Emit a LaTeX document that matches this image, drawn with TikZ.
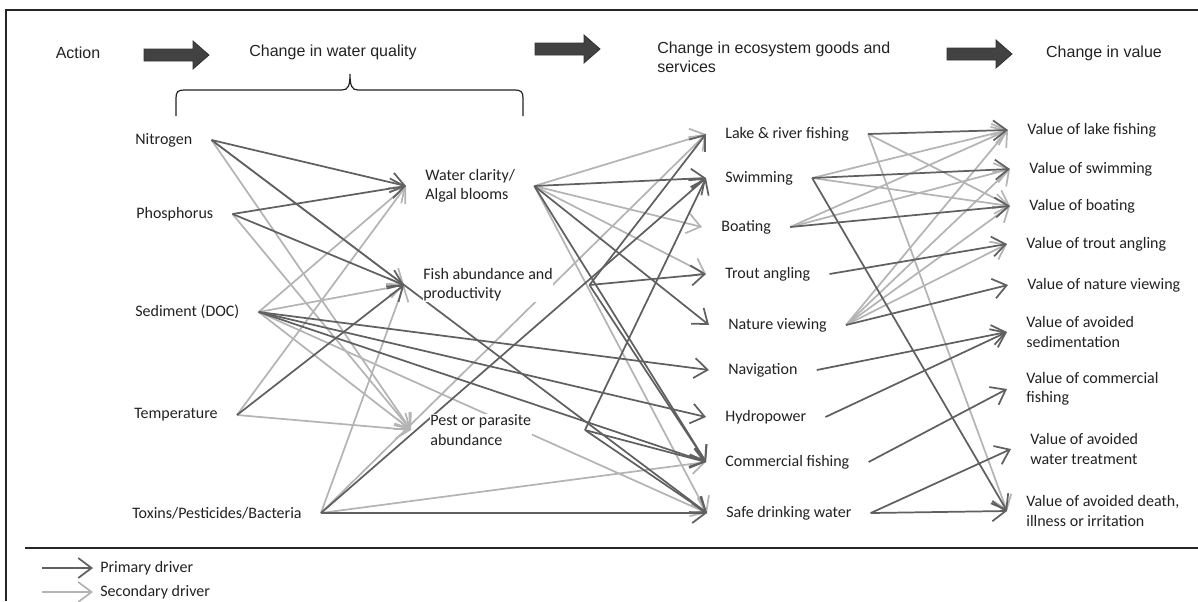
\documentclass[tikz,border=0pt]{standalone}
\usepackage{fontspec}
\setmainfont{Carlito}
\newfontfamily\headfont{Liberation Sans}
\usetikzlibrary{arrows.meta,backgrounds}

\definecolor{primarygray}{RGB}{96,96,96}
\definecolor{secondarygray}{RGB}{180,180,180}
\definecolor{labeltext}{RGB}{34,34,34}
\definecolor{blockgray}{RGB}{66,66,66}

\tikzset{
    item/.style={anchor=west, inner sep=0.5pt, outer xsep=14pt, fill=white, text=labeltext, align=left, font=\fontsize{12}{14.5}\selectfont},
    legend/.style={item, outer xsep=5pt},
    head/.style={inner sep=0pt, text=labeltext, align=left, font=\headfont\fontsize{12}{14.5}\selectfont},
    primary/.style={->, draw=primarygray, line width=1.3pt},
    secondary/.style={->, draw=secondarygray, line width=1.3pt},
    blockarrow/.style={fill=blockgray, draw=black!80, line width=0.6pt},
    frame/.style={draw=black!85, line width=1.4pt},
}

\begin{document}
\begin{tikzpicture}[x=0.75pt, y=-0.75pt, >={Straight Barb[length=10pt,width=15pt]}]
    \useasboundingbox (0,0) rectangle (1198,601);

    %%  Frame
    \draw [frame] (6,601) -- (6,10) -- (1198,10);
    \draw [frame] (25,548) -- (1198,548);

    %%  Headings
    \node [head] (action) at (78,53) {Action};
    \node [head] (wqhead) at (333,52) {Change in water quality};
    \node [head, anchor=west] (eshead) at (657,57) {Change in ecosystem goods and\\services};
    \node [head] (valhead) at (1104,53) {Change in value};
    % Block arrows
    \foreach \x/\y in {144/55, 535/49, 947/54}
        \filldraw [blockarrow] (\x,\y) ++(0,-6) -- ++(49,0) -- ++(0,-8) -- ++(16,14) -- ++(-16,14) -- ++(0,-8) -- ++(-49,0) -- cycle;
    % Brace
    \draw [line width=0.9pt, labeltext] (176,116) -- (176,98) .. controls (176,92) and (178,90) .. (184,90) -- (342,90) .. controls (348,90) and (350,86) .. (350,74) .. controls (350,86) and (352,90) .. (358,90) -- (515,90) .. controls (521,90) and (523,92) .. (523,98) -- (523,116);

    %%  Actions
    \node [item] (nit) at (116,140) {Nitrogen};
    \node [item] (pho) at (117,214) {Phosphorus};
    \node [item] (sed) at (116,312) {Sediment (DOC)};
    \node [item] (tem) at (115,415) {Temperature};
    \node [item] (tox) at (113,513) {Toxins/Pesticides/Bacteria};

    %%  Water quality
    \node [item] (wc) at (406,186) {Water clarity/\\Algal blooms};
    \node [item] (fish) at (404,285) {Fish abundance and\\productivity};
    \node [item] (pest) at (411,430) {Pest or parasite\\abundance};
    \coordinate (fishout) at ([xshift=13pt]fish.east);
    \coordinate (pestout) at ([xshift=26pt]pest.east);

    %%  Ecosystem goods and services
    \node [item] (lf) at (706,134) {Lake \& river fishing};
    \node [item] (sw) at (706,178) {Swimming};
    \node [item] (bo) at (702,227) {Boating};
    \node [item] (tr) at (706,274) {Trout angling};
    \node [item] (nv) at (709,325) {Nature viewing};
    \node [item] (na) at (709,370) {Navigation};
    \node [item] (hy) at (706,417) {Hydropower};
    \node [item] (cf) at (706,462) {Commercial fishing};
    \node [item] (dw) at (707,513) {Safe drinking water};

    %%  Values
    \node [item] (vlf) at (1008,130) {Value of lake fishing};
    \node [item] (vsw) at (1010,169) {Value of swimming};
    \node [item] (vbo) at (1010,206) {Value of boating};
    \node [item] (vtr) at (1007,244) {Value of trout angling};
    \node [item] (vnv) at (1008,285) {Value of nature viewing};
    \node [item] (vsed) at (1007,332) {Value of avoided\\ sedimentation};
    \node [item] (vcf) at (1007,389) {Value of commercial\\fishing};
    \node [item] (vwt) at (1011,449) {Value of avoided\\water treatment};
    \node [item] (vdi) at (1007,511) {Value of avoided death,\\illness or irritation};

    %%  Legend
    \coordinate (primstart) at (42,568);
    \coordinate (secstart) at (42,592);
    \node [legend] (prim) at (93,568) {Primary driver};
    \node [legend] (sec) at (93,592) {Secondary driver};

    \begin{pgfonlayer}{background}
    % Secondary drivers
    \draw [secondary] (secstart) -- (sec.west);
    \draw [secondary] (nit.east) -- (fish.west);
    \draw [secondary] (nit.east) -- (pest.west);
    \draw [secondary] (pho.east) -- (pest.west);
    \draw [secondary] (sed.east) -- (wc.west);
    \draw [secondary] (sed.east) -- (fish.west);
    \draw [secondary] (sed.east) -- (pest.west);
    \draw [secondary] (sed.east) -- (dw.west);
    \draw [secondary] (tem.east) -- (wc.west);
    \draw [secondary] (tem.east) -- (pest.west);
    \draw [secondary] (tox.east) -- (fish.west);
    \draw [secondary] (tox.east) -- (lf.west);
    \draw [secondary] (tox.east) -- (cf.west);
    \draw [secondary] (wc.east) -- (lf.west);
    \draw [secondary] (wc.east) -- (bo.west);
    \draw [secondary] (wc.east) -- (tr.west);
    \draw [secondary] (wc.east) -- (dw.west);
    \draw [secondary] (lf.east) -- (vbo.west);
    \draw [secondary] (lf.east) -- (vdi.west);
    \draw [secondary] (sw.east) -- (vlf.west);
    \draw [secondary] (sw.east) -- (vbo.west);
    \draw [secondary] (bo.east) -- (vlf.west);
    \draw [secondary] (bo.east) -- (vsw.west);
    \draw [secondary] (nv.east) -- (vlf.west);
    \draw [secondary] (nv.east) -- (vsw.west);
    \draw [secondary] (nv.east) -- (vbo.west);
    \draw [secondary] (nv.east) -- (vtr.west);

    % Primary drivers
    \draw [primary] (primstart) -- (prim.west);
    \draw [primary] (nit.east) -- (wc.west);
    \draw [primary] (nit.east) -- (dw.west);
    \draw [primary] (pho.east) -- (wc.west);
    \draw [primary] (pho.east) -- (fish.west);
    \draw [primary] (sed.east) -- (na.west);
    \draw [primary] (sed.east) -- (hy.west);
    \draw [primary] (sed.east) -- (cf.west);
    \draw [primary] (tem.east) -- (fish.west);
    \draw [primary] (tox.east) -- (sw.west);
    \draw [primary] (tox.east) -- (dw.west);
    \draw [primary] (wc.east) -- (sw.west);
    \draw [primary] (wc.east) -- (nv.west);
    \draw [primary] (wc.east) -- (cf.west);
    \draw [primary] (fishout) -- (lf.west);
    \draw [primary] (fishout) -- (tr.west);
    \draw [primary] (fishout) -- (cf.west);
    \draw [primary] (pestout) -- (sw.west);
    \draw [primary] (pestout) -- (cf.west);
    \draw [primary] (pestout) -- (dw.west);
    \draw [primary] (lf.east) -- (vlf.west);
    \draw [primary] (sw.east) -- (vsw.west);
    \draw [primary] (sw.east) -- (vdi.west);
    \draw [primary] (bo.east) -- (vbo.west);
    \draw [primary] (tr.east) -- (vtr.west);
    \draw [primary] (nv.east) -- (vnv.west);
    \draw [primary] (na.east) -- (vsed.west);
    \draw [primary] (hy.east) -- (vsed.west);
    \draw [primary] (cf.east) -- (vcf.west);
    \draw [primary] (dw.east) -- (vwt.west);
    \draw [primary] (dw.east) -- (vdi.west);
    \end{pgfonlayer}
\end{tikzpicture}
\end{document}
